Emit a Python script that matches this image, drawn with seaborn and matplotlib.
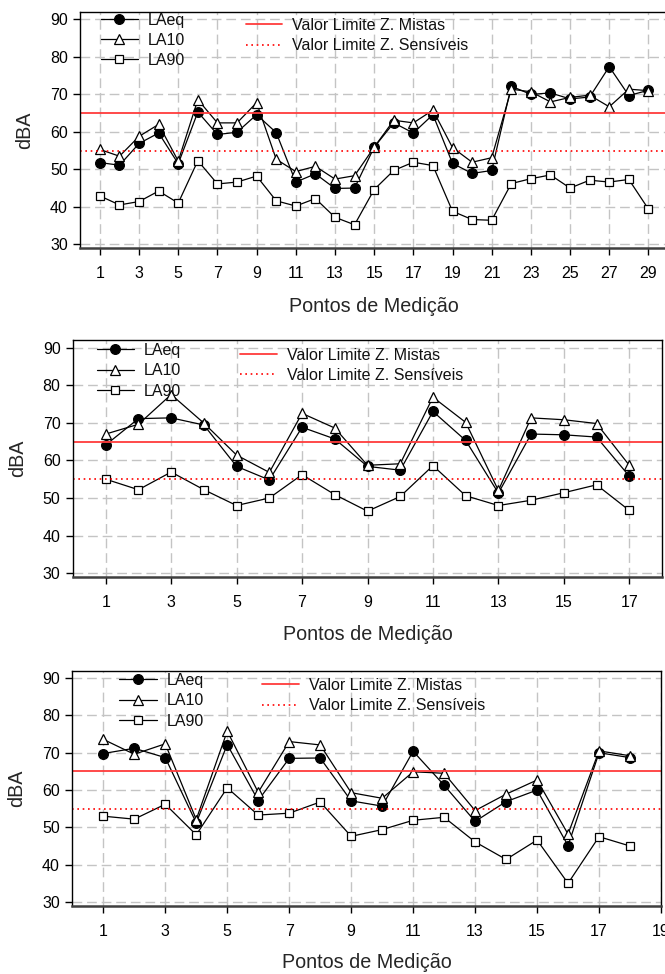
import numpy as np
import pandas as pd
import matplotlib
matplotlib.use("Agg")
import matplotlib.pyplot as plt
import matplotlib.transforms as mtransforms
import seaborn as sns

# ---------------- data ----------------
pts1 = list(range(1, 30))
laeq1 = [51.8, 51.1, 56.9, 59.7, 51.5, 65.3, 59.3, 59.9, 64.6, 59.8, 46.6, 48.8, 44.9, 45.0, 55.9,
         62.4, 59.7, 64.6, 51.6, 48.9, 49.7, 72.2, 70.0, 70.4, 68.8, 69.3, 77.4, 69.7, 71.1]
la10_1 = [55.3, 53.5, 58.8, 62.0, 52.2, 68.6, 62.4, 62.4, 67.8, 52.7, 49.4, 50.8, 47.4, 48.3, 55.9,
          63.1, 62.4, 65.8, 55.8, 51.9, 53.1, 71.4, 70.7, 68.0, 69.2, 69.8, 66.7, 71.4, 71.0]
la90_1 = [42.9, 40.5, 41.4, 44.2, 41.0, 52.3, 46.1, 46.6, 48.2, 41.6, 40.2, 42.2, 37.2, 35.2, 44.6,
          49.7, 51.9, 51.0, 38.8, 36.6, 36.4, 46.2, 47.5, 48.5, 45.0, 47.1, 46.6, 47.3, 39.4]

pts2 = list(range(1, 18))
laeq2 = [64.1, 71.1, 71.3, 69.4, 58.4, 54.8, 68.8, 65.7, 58.4, 57.4, 73.0, 65.3, 51.3, 67.0, 66.8, 66.2, 55.8]
la10_2 = [67.0, 69.6, 77.5, 69.9, 61.4, 56.8, 72.5, 68.6, 58.7, 59.1, 76.8, 70.1, 52.0, 71.3, 70.8, 69.8, 58.7]
la90_2 = [55.0, 52.2, 56.9, 52.2, 48.0, 50.0, 56.2, 50.9, 46.5, 50.4, 58.6, 50.6, 48.0, 49.4, 51.4, 53.5, 46.7]

pts3 = list(range(1, 19))
laeq3 = [69.8, 71.2, 68.7, 51.2, 72.2, 57.2, 68.5, 68.6, 57.1, 55.7, 70.4, 61.3, 51.6, 56.9, 60.0, 45.1, 70.0, 68.7]
la10_3 = [73.6, 69.6, 72.4, 52.1, 75.8, 59.4, 73.0, 72.1, 59.3, 57.8, 64.9, 64.5, 54.5, 58.9, 62.7, 48.2, 70.5, 69.2]
la90_3 = [53.0, 52.2, 56.2, 48.0, 60.6, 53.3, 53.8, 56.8, 47.6, 49.4, 51.9, 52.7, 46.1, 41.4, 46.6, 35.0, 47.5, 45.0]

limit_mistas = 65
limit_sensiveis = 55
series_names = ["LAeq", "LA10", "LA90"]
limit_names = ["Valor Limite Z. Mistas", "Valor Limite Z. Sensíveis"]
yticks = [30, 40, 50, 60, 70, 80, 90]
xlabel = "Pontos de Medição"
ylabel = "dBA"

# ---------------- style ----------------
sns.set_theme(style="ticks")
plt.rcParams["font.family"] = ["Liberation Sans", "DejaVu Sans"]
plt.rcParams["axes.edgecolor"] = "black"
plt.rcParams["xtick.color"] = "black"
plt.rcParams["ytick.color"] = "black"
plt.rcParams["text.color"] = "#111111"

W, H = 665, 974
fig = plt.figure(figsize=(W / 100, H / 100), dpi=100)

def px_rect(left, top, right, bottom):
    return [left / W, 1 - bottom / H, (right - left) / W, (bottom - top) / H]

panels = [
    dict(rect=px_rect(80.3, 12, 668, 248), x=pts1, laeq=laeq1, la10=la10_1, la90=la90_1,
         xlim=(0, 30), xticks=list(range(1, 30, 2)),
         ylab_x=34, xlab_y=297.0,
         leg1=(100.7, 12.5), leg2=(245.7, 18.0)),
    dict(rect=px_rect(73, 340, 662, 577), x=pts2, laeq=laeq2, la10=la10_2, la90=la90_2,
         xlim=(0, 18), xticks=list(range(1, 18, 2)),
         ylab_x=27, xlab_y=625.0,
         leg1=(96.7, 343.0), leg2=(240, 347.5)),
    dict(rect=px_rect(72.3, 670.7, 661, 905.7), x=pts3, laeq=laeq3, la10=la10_3, la90=la90_3,
         xlim=(0, 19), xticks=list(range(1, 20, 2)),
         ylab_x=26, xlab_y=952.7,
         leg1=(119, 673.0), leg2=(262, 678.0)),
]

FS_TICK = 11.5
FS_LEG = 11.5
FS_LAB = 14.2

for p in panels:
    ax = fig.add_axes(p["rect"])
    ax.set_axisbelow(True)
    ax.grid(True, color="#c4c4c4", linestyle=(0, (7, 3.5)), linewidth=1.0)

    common = dict(ax=ax, color="black", linewidth=0.9, markeredgecolor="black",
                  markeredgewidth=0.9, legend=False)
    sns.lineplot(x=p["x"], y=p["laeq"], marker="o", markersize=7,
                 markerfacecolor="black", **common)
    sns.lineplot(x=p["x"], y=p["la10"], marker="^", markersize=7,
                 markerfacecolor="white", **common)
    sns.lineplot(x=p["x"], y=p["la90"], marker="s", markersize=6.3,
                 markerfacecolor="white", **common)
    lines = ax.get_lines()[-3:]

    h1 = ax.axhline(limit_mistas, color="#ff3b3b", linewidth=1.3)
    h2 = ax.axhline(limit_sensiveis, color="#ff0000", linewidth=1.2, linestyle=(0, (1, 2.2)))

    ax.set_xlim(*p["xlim"])
    ax.set_ylim(29.0, 92.0)
    ax.set_xticks(p["xticks"])
    ax.set_yticks(yticks)
    ax.tick_params(axis="both", direction="out", length=5, width=1, labelsize=FS_TICK)
    ax.tick_params(axis="x", pad=8)
    ax.tick_params(axis="y", pad=4)
    for s in ["left", "top", "right"]:
        ax.spines[s].set_color("black")
        ax.spines[s].set_linewidth(1.0)
    ax.spines["bottom"].set_color("#404040")
    ax.spines["bottom"].set_linewidth(1.8)

    ax.set_xlabel(xlabel, fontsize=FS_LAB)
    ax.set_ylabel(ylabel, fontsize=FS_LAB)
    ax.xaxis.set_label_coords(0.5, 1 - p["xlab_y"] / H,
                              transform=mtransforms.blended_transform_factory(ax.transAxes, fig.transFigure))
    ax.yaxis.set_label_coords(p["ylab_x"] / W, 0.5,
                              transform=mtransforms.blended_transform_factory(fig.transFigure, ax.transAxes))

    lx, ly = p["leg1"]
    leg1 = ax.legend(lines, series_names, loc="upper left",
                     bbox_to_anchor=(lx / W, 1 - ly / H), bbox_transform=fig.transFigure,
                     frameon=False, fontsize=FS_LEG, borderpad=0, borderaxespad=0,
                     handlelength=2.35, handletextpad=0.62, labelspacing=0.33)
    ax.add_artist(leg1)
    lx, ly = p["leg2"]
    ax.legend([h1, h2], limit_names, loc="upper left",
              bbox_to_anchor=(lx / W, 1 - ly / H), bbox_transform=fig.transFigure,
              frameon=False, fontsize=FS_LEG, borderpad=0, borderaxespad=0,
              handlelength=2.3, handletextpad=0.62, labelspacing=0.33)

fig.savefig("out.png", dpi=100)
